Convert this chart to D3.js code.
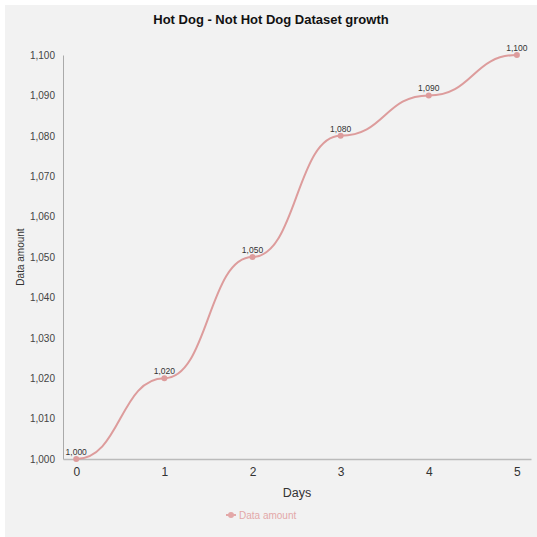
<!DOCTYPE html>
<html><head><meta charset="utf-8">
<script src="https://cdn.jsdelivr.net/npm/d3@7"></script>
<style>body{margin:0;background:#fff}svg{display:block}text{font-family:"Liberation Sans",Arial,sans-serif}</style>
</head><body>
<svg id="c" width="537" height="537"></svg>
<script>
const days = [0, 1, 2, 3, 4, 5];
const amounts = [1000, 1020, 1050, 1080, 1090, 1100];
const yTicks = [1000, 1010, 1020, 1030, 1040, 1050, 1060, 1070, 1080, 1090, 1100];
const title = "Hot Dog - Not Hot Dog Dataset growth";
const seriesName = "Data amount";

const svg = d3.select("#c");
svg.append("rect").attr("x", 5).attr("y", 5).attr("width", 532).attr("height", 532).attr("fill", "#f2f2f2");

const x = d3.scaleLinear().domain([-0.15, 5.16]).range([63, 531]);
const y = d3.scaleLinear().domain([1000, 1100]).range([459, 55]);
const lineColor = "#dd9c9c";

svg.append("text").attr("x", 271).attr("y", 24).attr("text-anchor", "middle")
  .attr("font-size", 13).attr("font-weight", "bold").attr("fill", "#111").text(title);

// y axis
const ya = svg.append("g").attr("transform", "translate(63,0)")
  .call(d3.axisLeft(y).tickValues(yTicks).tickSize(0).tickPadding(8).tickFormat(d3.format(",")));
ya.select(".domain").attr("stroke", "#aaa").attr("stroke-width", 1);
ya.selectAll("text").attr("font-size", 10).attr("fill", "#444").attr("font-family", '"Liberation Sans",Arial,sans-serif');

// x axis
const xa = svg.append("g").attr("transform", "translate(0,459)")
  .call(d3.axisBottom(x).tickValues(days).tickSize(0).tickPadding(8).tickFormat(d3.format("d")));
xa.select(".domain").attr("stroke", "#bbb").attr("stroke-width", 1.5);
xa.selectAll("text").attr("font-size", 12).attr("fill", "#333").attr("font-family", '"Liberation Sans",Arial,sans-serif');

svg.append("text").attr("x", 297).attr("y", 497).attr("text-anchor", "middle")
  .attr("font-size", 12.5).attr("fill", "#333").text("Days");
svg.append("text").attr("transform", "translate(24,257) rotate(-90)").attr("text-anchor", "middle")
  .attr("font-size", 10).attr("fill", "#333").text(seriesName);

const data = days.map((d, i) => ({ d, v: amounts[i] }));
const line = d3.line().x(p => x(p.d)).y(p => y(p.v)).curve(d3.curveBumpX);
svg.append("path").datum(data).attr("d", line).attr("fill", "none")
  .attr("stroke", lineColor).attr("stroke-width", 2);
svg.selectAll("circle.pt").data(data).join("circle").attr("class", "pt")
  .attr("cx", p => x(p.d)).attr("cy", p => y(p.v)).attr("r", 3).attr("fill", lineColor);
svg.selectAll("text.lbl").data(data).join("text").attr("class", "lbl")
  .attr("x", p => x(p.d)).attr("y", p => y(p.v) - 4).attr("text-anchor", "middle")
  .attr("font-size", 8.5).attr("fill", "#333").text(p => d3.format(",")(p.v));

// legend
const lg = svg.append("g").attr("transform", "translate(231,515)");
lg.append("line").attr("x1", -5).attr("x2", 5).attr("stroke", "#e3a8a8").attr("stroke-width", 2);
lg.append("circle").attr("r", 3).attr("fill", "#e3a8a8");
lg.append("text").attr("x", 8).attr("y", 3.5).attr("font-size", 10).attr("fill", "#e3a8a8").text(seriesName);
</script>
</body></html>
